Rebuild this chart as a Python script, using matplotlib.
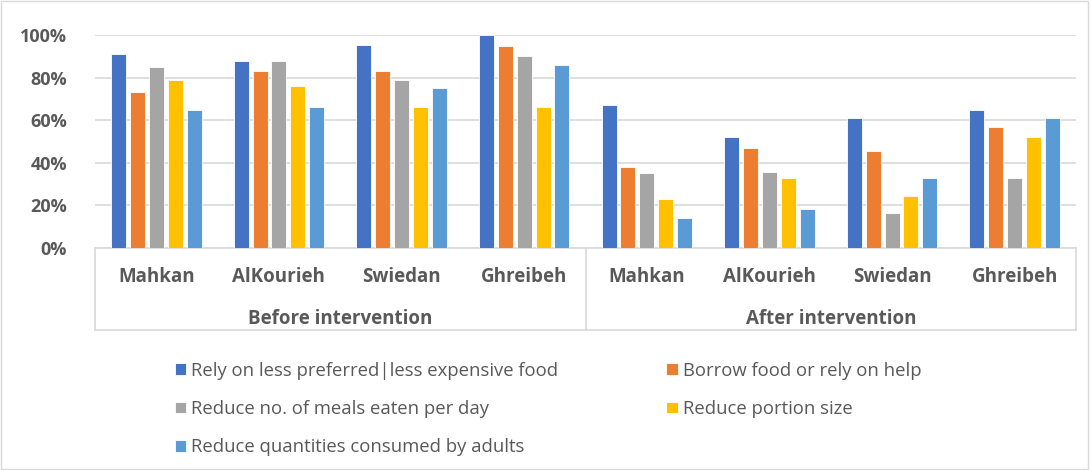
import matplotlib.pyplot as plt
import matplotlib.patches as mpatches
import numpy as np

plt.rcParams['font.family'] = ['Open Sans', 'DejaVu Sans']

villages = ['Mahkan', 'AlKourieh', 'Swiedan', 'Ghreibeh']
groups = ['Before intervention', 'After intervention']
series = ['Rely on less preferred|less expensive food',
          'Borrow food or rely on help',
          'Reduce no. of meals eaten per day',
          'Reduce portion size',
          'Reduce quantities consumed by adults']

# before (4 villages) then after (4 villages)
rely = [0.91, 0.88, 0.955, 1.00, 0.67, 0.52, 0.61, 0.65]
borrow = [0.733, 0.83, 0.83, 0.95, 0.38, 0.47, 0.455, 0.57]
meals = [0.85, 0.88, 0.79, 0.90, 0.35, 0.355, 0.165, 0.33]
portion = [0.79, 0.76, 0.66, 0.66, 0.23, 0.33, 0.245, 0.52]
adults = [0.65, 0.66, 0.75, 0.857, 0.14, 0.185, 0.33, 0.61]

colors = ['#4472C4', '#ED7D31', '#A5A5A5', '#FFC000', '#5B9BD5']
txt = '#595959'

fig = plt.figure(figsize=(10.91, 4.70), dpi=100)
ax = fig.add_axes([95 / 1091, 1 - 248 / 470, 981 / 1091, 213 / 470])

x = np.arange(len(villages) * len(groups))
handles = []
for k, vals in enumerate([rely, borrow, meals, portion, adults]):
    b = ax.bar(x + (k - 2) * 0.154, vals, width=0.122, color=colors[k],
               edgecolor='white', linewidth=0.6, label=series[k], zorder=3)
    handles.append(b)

ax.set_xlim(-0.5, 7.5)
ax.set_ylim(0, 1)
ax.set_yticks(np.arange(0, 1.01, 0.2))
ax.set_yticklabels([f'{int(round(v * 100))}%' for v in np.arange(0, 1.01, 0.2)],
                   fontsize=13, fontweight='bold', color=txt)
ax.tick_params(axis='y', length=0, pad=20)
ax.tick_params(axis='x', length=0, labelbottom=False)
ax.grid(axis='y', color='#d9d9d9', linewidth=1.2, zorder=0)
for s in ['top', 'right', 'left']:
    ax.spines[s].set_visible(False)
ax.spines['bottom'].set_color('#d9d9d9')
ax.spines['bottom'].set_linewidth(1.2)

# two-level category axis
tr = ax.get_xaxis_transform()
for i, name in enumerate(villages * 2):
    ax.text(i, -0.135, name, transform=tr, ha='center', va='center',
            fontsize=13.5, fontweight='bold', color=txt)
for g, name in enumerate(groups):
    ax.text(g * 4 + 1.5, -0.335, name, transform=tr, ha='center', va='center',
            fontsize=13.5, fontweight='bold', color=txt)
for xv in [-0.5, 3.5, 7.5]:
    ax.plot([xv, xv], [0, -0.385], transform=tr, color='#d9d9d9',
            linewidth=1.2, clip_on=False)
ax.plot([-0.5, 7.5], [-0.385, -0.385], transform=tr, color='#d9d9d9',
        linewidth=1.2, clip_on=False)

order = [0, 2, 4, 1, 3]
leg = fig.legend([handles[i] for i in order], [series[i] for i in order],
                 ncol=2, loc='upper left', bbox_to_anchor=(158 / 1091, 1 - 345 / 470),
                 frameon=False, fontsize=13.3, handlelength=0.6, handleheight=0.6,
                 handletextpad=0.3, columnspacing=5.85, labelspacing=1.1,
                 labelcolor=txt)

fig.patches.append(mpatches.Rectangle((0.001, 0.002), 0.996, 0.996,
                                      transform=fig.transFigure, fill=False,
                                      edgecolor='#d9d9d9', linewidth=1))

fig.savefig('out.png', dpi=100)
